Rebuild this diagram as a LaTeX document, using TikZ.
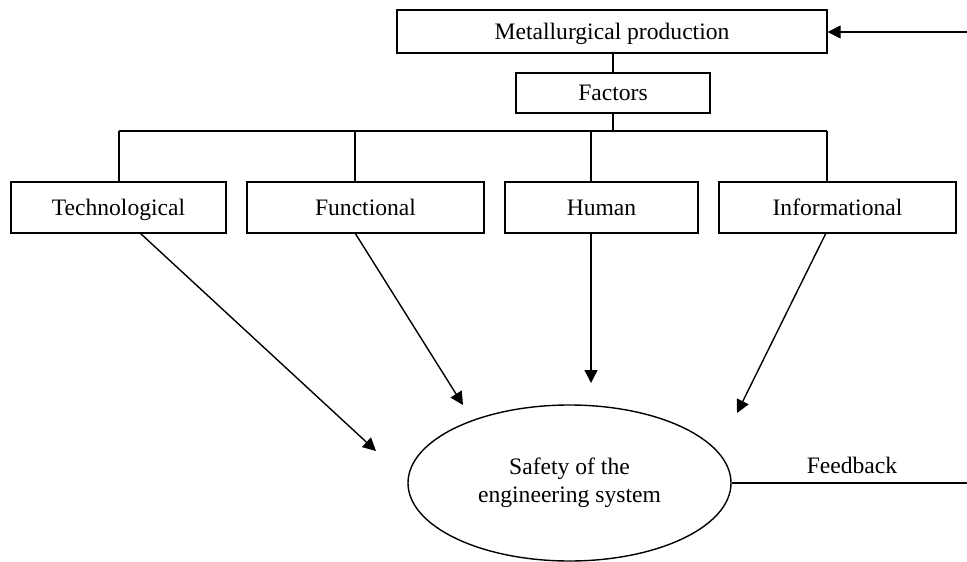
\documentclass[tikz,border=0pt]{standalone}
\usepackage{fontspec}
\setmainfont{Liberation Serif}
\usetikzlibrary{arrows.meta,shapes.geometric}
\begin{document}
\begin{tikzpicture}[x=0.5pt,y=-0.5pt,
  every node/.style={font=\fontsize{11.8}{14}\selectfont, inner sep=0pt},
  box/.style={draw, line width=0.7pt, rectangle, text height=10pt, text depth=2pt},
  conn/.style={line width=0.7pt},
  arr/.style={line width=0.7pt, -{Triangle[length=6.5pt,width=6.5pt]}}]
\useasboundingbox (0,0) rectangle (967,561);
% boxes
\node[box, minimum width=215pt, minimum height=21.5pt] (metal) at (612,31.5) {Metallurgical production};
\node[box, minimum width=97pt, minimum height=20pt] (factors) at (613,93) {Factors};
\node[box, minimum width=107.5pt, minimum height=25.5pt] (tech) at (118.5,207.5) {Technological};
\node[box, minimum width=118.5pt, minimum height=25.5pt] (func) at (365.5,207.5) {Functional};
\node[box, minimum width=96.5pt, minimum height=25.5pt] (human) at (601.5,207.5) {Human};
\node[box, minimum width=118.5pt, minimum height=25.5pt] (info) at (837.5,207.5) {Informational};
\node[draw, ellipse, line width=0.7pt, minimum width=161.5pt, minimum height=78pt, align=center] (safety) at (569.5,483) {Safety of the\\engineering system};
% coordinates
\coordinate (inR) at (967,32);
\coordinate (fbR) at (967,483);
\coordinate (bus) at (613,131);
\coordinate (b1) at (119,131);
\coordinate (b2) at (355,131);
\coordinate (b3) at (591,131);
\coordinate (b4) at (827,131);
\coordinate (s1) at (140,233);
\coordinate (s2) at (355,233);
\coordinate (s3) at (591,233);
\coordinate (s4) at (826,233);
\coordinate (t1) at (376,451);
\coordinate (t2) at (463,405);
\coordinate (t3) at (591,383);
\coordinate (t4) at (737,413);
% connectors
\draw[arr] (inR) -- (metal.east |- inR);
\draw[conn] (metal.south -| factors.north) -- (factors.north);
\draw[conn] (factors.south) -- (bus);
\draw[conn] (b1) -- (b4);
\draw[conn] (b1) -- (b1 |- tech.north);
\draw[conn] (b2) -- (b2 |- func.north);
\draw[conn] (b3) -- (b3 |- human.north);
\draw[conn] (b4) -- (b4 |- info.north);
\draw[arr] (s1) -- (t1);
\draw[arr] (s2) -- (t2);
\draw[arr] (s3) -- (t3);
\draw[arr] (s4) -- (t4);
\draw[conn] (safety.east) -- (fbR);
\node[anchor=base] (fb) at (852,473) {Feedback};
\end{tikzpicture}
\end{document}
